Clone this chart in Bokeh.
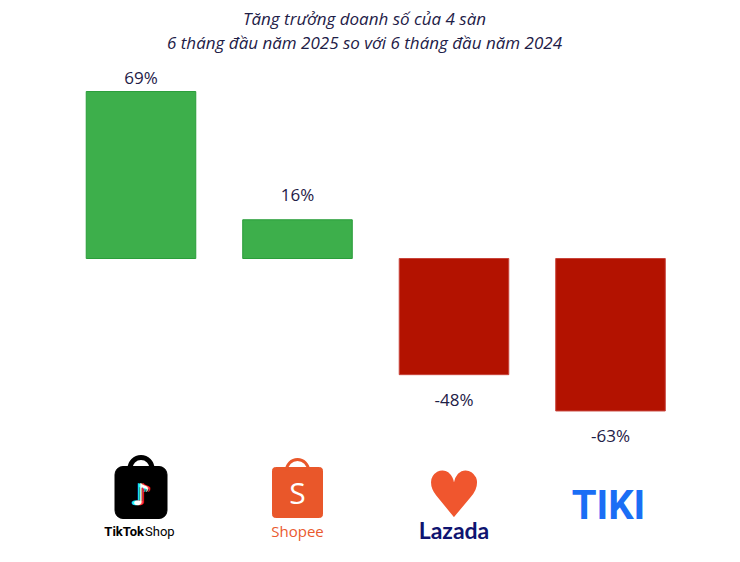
from bokeh.plotting import figure
from bokeh.models import Label, ColumnDataSource
from bokeh.core.properties import value
from bokeh.embed import file_html
from bokeh.resources import INLINE
import math

# ---- data ----
platforms = ["TikTok Shop", "Shopee", "Lazada", "Tiki"]
growth = [69, 16, -48, -63]
growth_labels = ["69%", "16%", "-48%", "-63%"]
title_lines = ["Tăng trưởng doanh số của 4 sàn",
               "6 tháng đầu năm 2025 so với 6 tháng đầu năm 2024"]

W, H = 740, 562
PX_PER_X = 156.5
X0_PX = 140.5
ZERO_PX = 258.0
PX_PER_Y = 2.42

x_start = -X0_PX / PX_PER_X
x_end = x_start + W / PX_PER_X
y_end = ZERO_PX / PX_PER_Y
y_start = -(H - ZERO_PX) / PX_PER_Y


def ydat(ypx):
    return (ZERO_PX - ypx) / PX_PER_Y


p = figure(width=W, height=H, x_range=(x_start, x_end), y_range=(y_start, y_end),
           output_backend="svg", toolbar_location=None, min_border=0,
           outline_line_color=None, background_fill_color="white")
p.axis.visible = False
p.grid.visible = False

idx = list(range(len(platforms)))
colors = ["#3daf4b" if g >= 0 else "#b31200" for g in growth]
borders = ["#2a9d3a" if g >= 0 else "#c8433a" for g in growth]
# label gap from bar end (screen px); centre-based placement
label_gap = [-14, -25, 25, 25]
src = ColumnDataSource(dict(x=idx, top=growth, color=colors, border=borders,
                            label=growth_labels, off=label_gap))
p.vbar(x="x", top="top", bottom=0, width=0.70, fill_color="color",
       line_color="border", line_width=1, source=src)

navy = "#1e2047"
p.text(x="x", y="top", text="label", y_offset="off", text_align="center",
       text_baseline="middle", text_font=value("Open Sans"),
       text_font_size="17px", text_color=navy, source=src)

# title
for k, line in enumerate(title_lines):
    p.add_layout(Label(x=364, y=H - (18 + 24 * k), x_units="screen", y_units="screen",
                       text=line, text_align="center", text_baseline="middle",
                       text_font="Open Sans", text_font_style="italic",
                       text_font_size="17px", text_color=navy))

# ---- brand marks under each bar ----
# TikTok Shop bag
p.rect(x=[0], y=[ydat(492)], width=52, height=52, width_units="screen",
       height_units="screen", fill_color="black", line_color="black",
       border_radius=8)
p.arc(x=[0], y=[ydat(468)], radius=11, radius_units="screen", start_angle=0,
      end_angle=math.pi, line_color="black", line_width=5)
p.text(x=[0], y=[ydat(494)], text=["♪"], text_align="center", text_baseline="middle",
       text_font=value("DejaVu Sans"), text_font_size="30px", text_color="#25f4ee",
       x_offset=-2)
p.text(x=[0], y=[ydat(494)], text=["♪"], text_align="center", text_baseline="middle",
       text_font=value("DejaVu Sans"), text_font_size="30px", text_color="#fe2c55",
       x_offset=2)
p.text(x=[0], y=[ydat(494)], text=["♪"], text_align="center", text_baseline="middle",
       text_font=value("DejaVu Sans"), text_font_size="30px", text_color="white")
p.text(x=[0], y=[ydat(531)], text=["TikTok"], text_align="right", text_baseline="middle",
       text_font=value("Roboto"), text_font_style="bold", text_font_size="13px",
       text_color="black", x_offset=3)
p.text(x=[0], y=[ydat(531)], text=["Shop"], text_align="left", text_baseline="middle",
       text_font=value("Roboto"), text_font_size="13px", text_color="black",
       x_offset=4)

# Shopee bag
p.rect(x=[1], y=[ydat(492)], width=50, height=50, width_units="screen",
       height_units="screen", fill_color="#e9572a", line_color="#e9572a",
       border_radius=3)
p.arc(x=[1], y=[ydat(470)], radius=11, radius_units="screen", start_angle=0,
      end_angle=math.pi, line_color="#e9572a", line_width=3)
p.text(x=[1], y=[ydat(492)], text=["S"], text_align="center", text_baseline="middle",
       text_font=value("Open Sans"), text_font_size="30px", text_color="white")
p.text(x=[1], y=[ydat(530)], text=["Shopee"], text_align="center", text_baseline="middle",
       text_font=value("Open Sans"), text_font_size="15px", text_color="#ea5a2f")

# Lazada heart
p.text(x=[2], y=[ydat(494)], text=["♥"], text_align="center", text_baseline="middle",
       text_font=value("DejaVu Sans"), text_font_size="64px", text_color="#f0562e")
p.text(x=[2], y=[ydat(529)], text=["Lazada"], text_align="center", text_baseline="middle",
       text_font=value("Lato"), text_font_style="bold", text_font_size="23px",
       text_color="#0f1470")

# Tiki wordmark
p.text(x=[3], y=[ydat(505)], text=["TIKI"], text_align="center", text_baseline="middle",
       text_font=value("Roboto"), text_font_style="bold", text_font_size="40px",
       text_color="#1a6ef5", x_offset=-2)

open("out.html", "w").write(file_html(p, INLINE))
